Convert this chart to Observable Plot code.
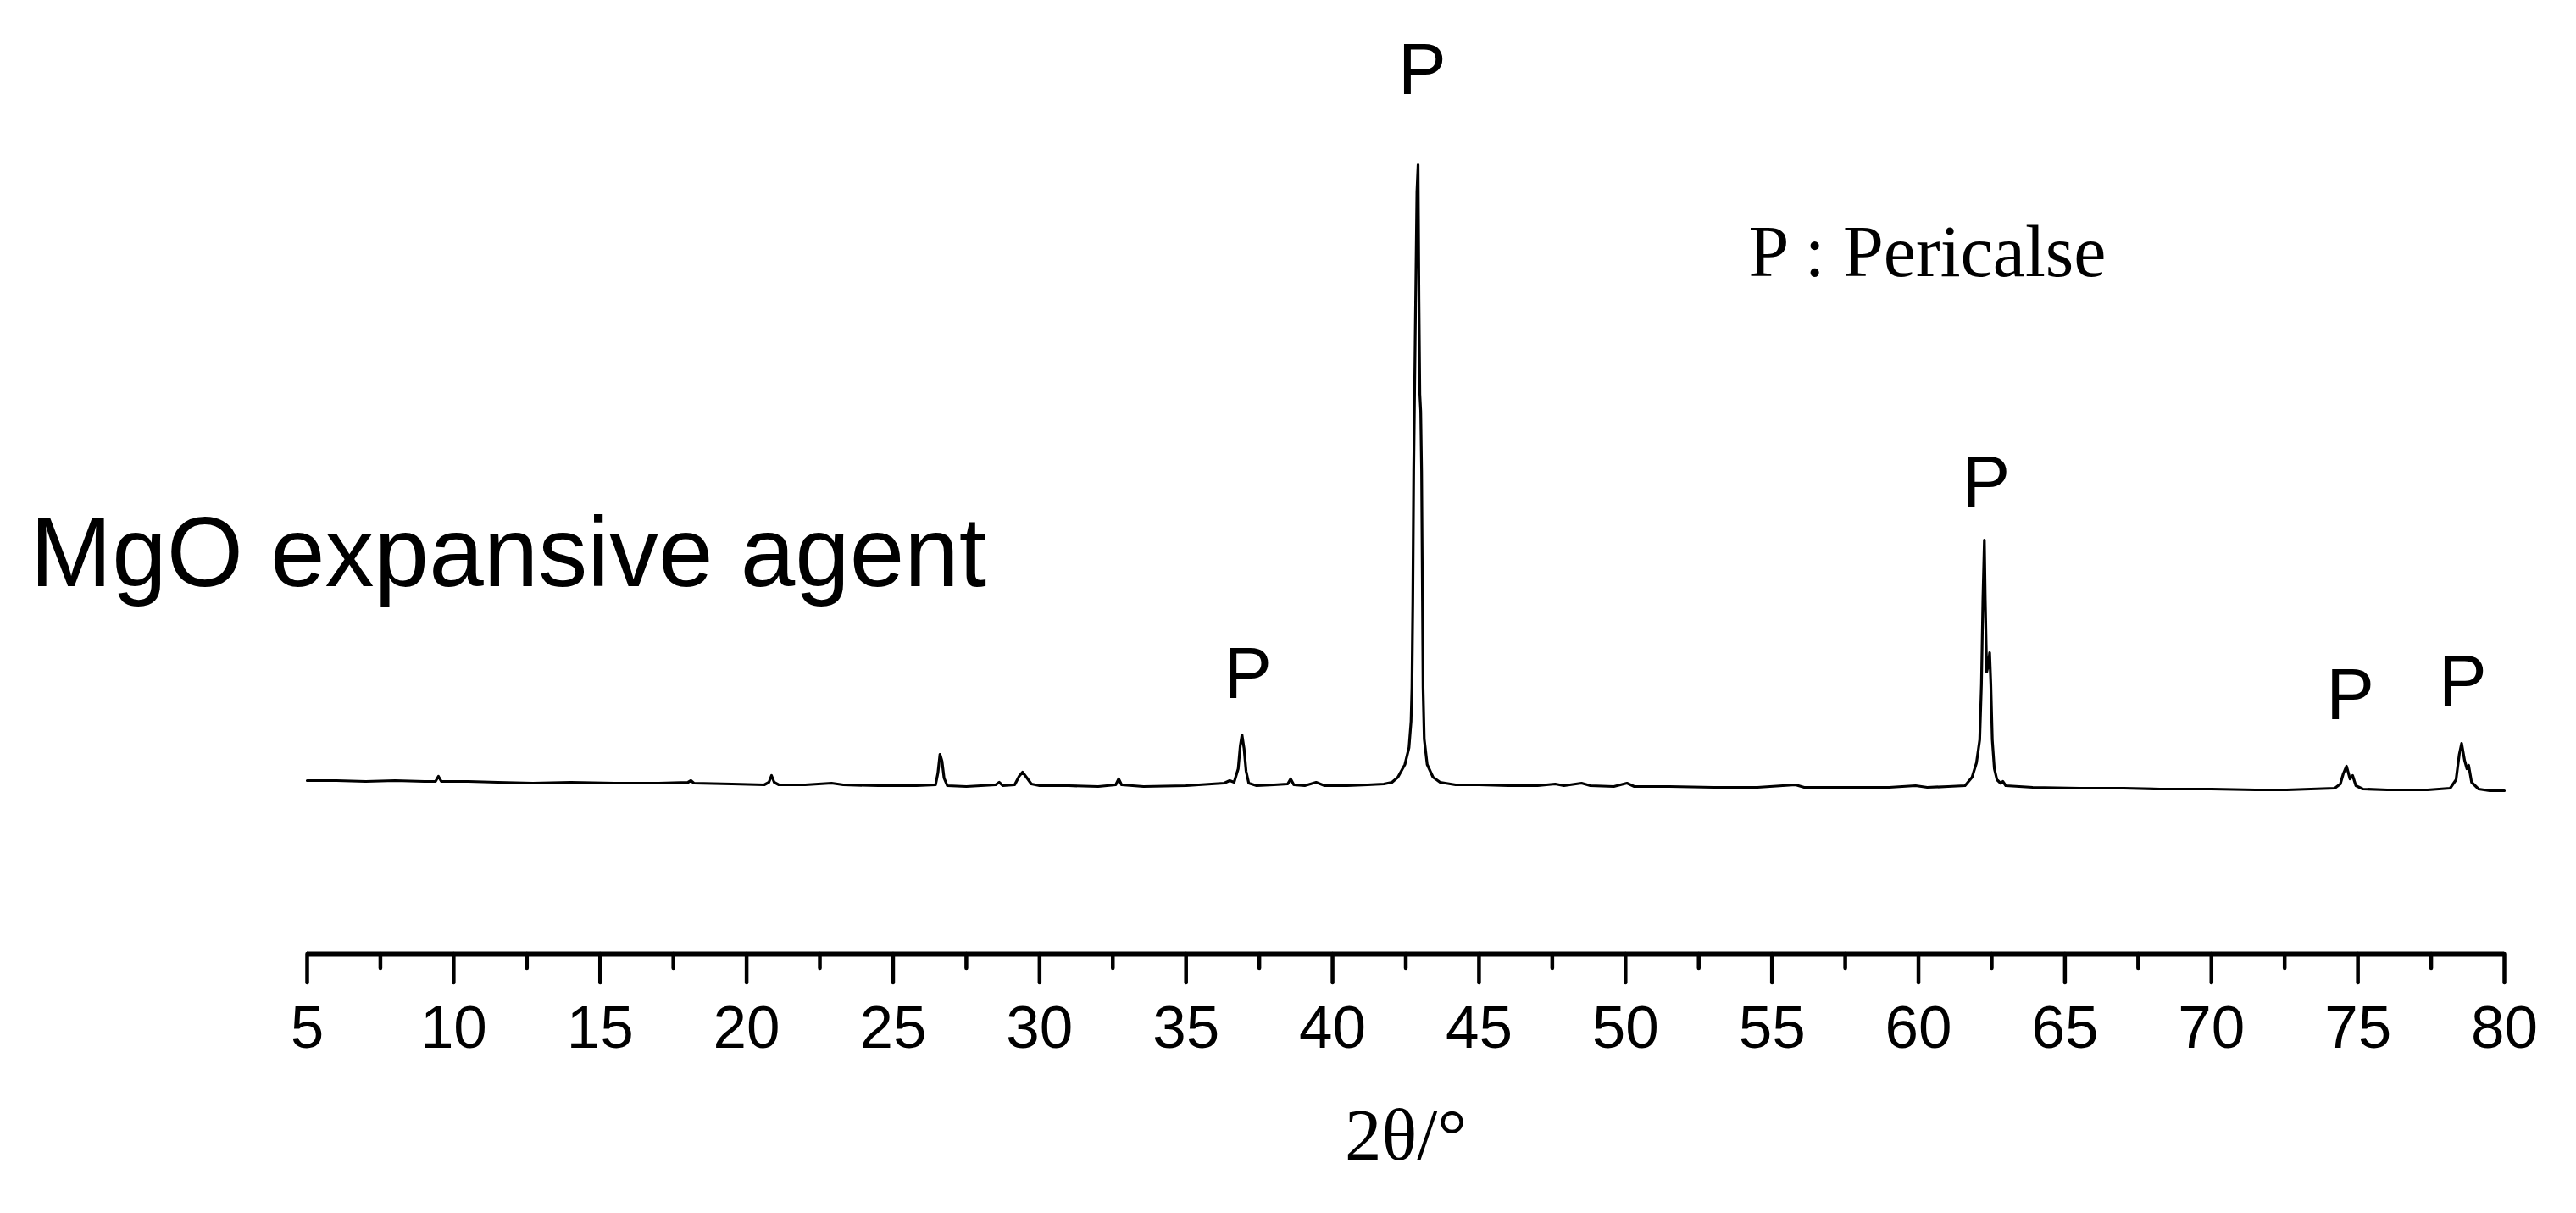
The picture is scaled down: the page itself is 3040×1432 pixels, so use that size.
<!DOCTYPE html>
<html><head><meta charset="utf-8">
<script src="https://cdn.jsdelivr.net/npm/d3@7"></script>
<script src="https://cdn.jsdelivr.net/npm/@observablehq/plot@0.6"></script>
<style>html,body{margin:0;padding:0;background:#fff;} svg{display:block;}</style>
</head><body>
<script>
// XRD pattern, 2θ (degrees) vs intensity (a.u.)
const twoTheta = [
  5.0, 6.0, 7.0, 8.0, 9.0, 9.38, 9.48, 9.58, 10.5, 11.5, 12.7, 14.0, 15.5, 17.0, 18.0, 18.1, 18.2, 19.5,
  20.6, 20.76, 20.85, 20.94, 21.1, 22.0, 22.9, 23.3, 24.5, 25.8, 26.45, 26.53, 26.6, 26.67, 26.74, 26.85,
  27.5, 28.5, 28.62, 28.75, 29.15, 29.3, 29.42, 29.55, 29.72, 30.0, 31.0, 32.0, 32.6, 32.7, 32.8, 33.55,
  35.0, 35.87, 36.3, 36.49, 36.64, 36.78, 36.85, 36.91, 36.98, 37.05, 37.14, 37.41, 38.0, 38.47, 38.57, 38.68,
  39.05, 39.44, 39.73, 40.5, 41.2, 41.75, 42.03, 42.23, 42.47, 42.61, 42.68, 42.71, 42.74, 42.77, 42.82, 42.88,
  42.92, 42.95, 42.98, 43.01, 43.04, 43.07, 43.09, 43.13, 43.23, 43.43, 43.67, 44.2, 45.0, 46.0, 47.0, 47.6,
  47.9, 48.5, 48.8, 49.6, 50.05, 50.3, 51.5, 53.0, 54.5, 55.8, 56.1, 57.5, 59.0, 59.9, 60.3, 61.01,
  61.59, 61.83, 61.98, 62.09, 62.15, 62.2, 62.25, 62.28, 62.33, 62.38, 62.43, 62.47, 62.52, 62.59, 62.68, 62.8,
  62.88, 62.98, 63.9, 65.5, 67.0, 68.24, 70.0, 71.5, 72.57, 74.21, 74.4, 74.5, 74.61, 74.73, 74.82, 74.93,
  75.17, 76.0, 77.38, 78.15, 78.35, 78.46, 78.54, 78.64, 78.72, 78.78, 78.88, 79.12, 79.5, 80.0
];
const intensity = [
  1025, 1025, 1020, 1025, 1020, 1020, 1050, 1020, 1020, 1015, 1010, 1015, 1010, 1010, 1015, 1025, 1010, 1005,
  1000, 1015, 1055, 1015, 1000, 1000, 1010, 1000, 995, 995, 1000, 1070, 1180, 1140, 1040, 995,
  990, 1000, 1015, 995, 1000, 1050, 1075, 1045, 1005, 995, 995, 990, 1000, 1035, 1000, 990,
  995, 1005, 1010, 1025, 1015, 1095, 1230, 1295, 1215, 1080, 1010, 995, 1000, 1005, 1035, 1000,
  995, 1015, 995, 995, 1000, 1005, 1015, 1045, 1120, 1220, 1375, 1575, 2085, 2850, 3610, 4500,
  4660, 3865, 3305, 3205, 2850, 2085, 1575, 1270, 1120, 1045, 1015, 1000, 1000, 995, 995, 1005,
  995, 1010, 995, 990, 1010, 990, 990, 985, 985, 1000, 985, 985, 985, 995, 985, 990,
  995, 1045, 1130, 1265, 1595, 2095, 2445, 2095, 1665, 1705, 1780, 1595, 1265, 1095, 1030, 1010,
  1020, 995, 985, 980, 980, 975, 975, 970, 970, 980, 1005, 1065, 1110, 1035, 1055, 995,
  975, 970, 970, 980, 1030, 1180, 1245, 1145, 1095, 1115, 1015, 975, 965, 965
];
// Peak annotations (Pericalse)
const peakPositions = [37.11, 43.06, 62.31, 74.74, 78.58];
const peakLabelIntensity = [1515, 5080, 2645, 1390, 1470];
const peakLabels = ["P", "P", "P", "P", "P"];
// Axis ticks
const majorTicks = [5, 10, 15, 20, 25, 30, 35, 40, 45, 50, 55, 60, 65, 70, 75, 80];
const minorTicks = [7.5, 12.5, 17.5, 22.5, 27.5, 32.5, 37.5, 42.5, 47.5, 52.5, 57.5, 62.5, 67.5, 72.5, 77.5];
const sampleName = "MgO expansive agent";
const legendText = "P : Pericalse";
const xLabel = "2θ/°";

const trace = twoTheta.map((x, i) => ({x, y: intensity[i]}));
const peaks = peakPositions.map((x, i) => ({x, y: peakLabelIntensity[i], label: peakLabels[i]}));

const sans = "'Liberation Sans', Arial, Helvetica, sans-serif";
const serif = "'Liberation Serif', 'Times New Roman', Times, serif";

const chart = Plot.plot({
  width: 3040,
  height: 1432,
  marginLeft: 362,
  marginRight: 85,
  marginTop: 26,
  marginBottom: 306,
  style: {background: "white", fontFamily: sans, color: "black"},
  x: {domain: [5, 80], label: null},
  y: {domain: [0, 5500], axis: null, label: null},
  marks: [
    Plot.lineY(trace, {x: "x", y: "y", stroke: "black", strokeWidth: 3.2, strokeLinejoin: "round"}),
    Plot.ruleY([0], {stroke: "black", strokeWidth: 6}),
    Plot.axisX(minorTicks, {tickSize: 17, strokeWidth: 4.5, strokeLinecap: "round", tickFormat: () => null, label: null}),
    Plot.axisX(majorTicks, {tickSize: 34, tickPadding: 26, strokeWidth: 4.5, strokeLinecap: "round", fontSize: 71, fontFamily: sans, label: null, tickFormat: d => String(d)}),
    Plot.text(peaks, {x: "x", y: "y", text: "label", fontSize: 85, fontFamily: sans, textAnchor: "middle", lineAnchor: "bottom", fill: "black"}),
    Plot.text([sampleName], {text: d => d, frameAnchor: "top-left", dx: -327, dy: 665, textAnchor: "start", lineAnchor: "bottom", fontSize: 116, fontFamily: sans, fill: "black"}),
    Plot.text([legendText], {text: d => d, frameAnchor: "top-left", dx: 1701, dy: 299, textAnchor: "start", lineAnchor: "bottom", fontSize: 86, fontFamily: serif, fill: "black"}),
    Plot.text([xLabel], {text: d => d, frameAnchor: "bottom", dy: 242, textAnchor: "middle", lineAnchor: "bottom", fontSize: 87, fontFamily: serif, fill: "black"})
  ]
});
document.body.appendChild(chart);
</script>
</body></html>
